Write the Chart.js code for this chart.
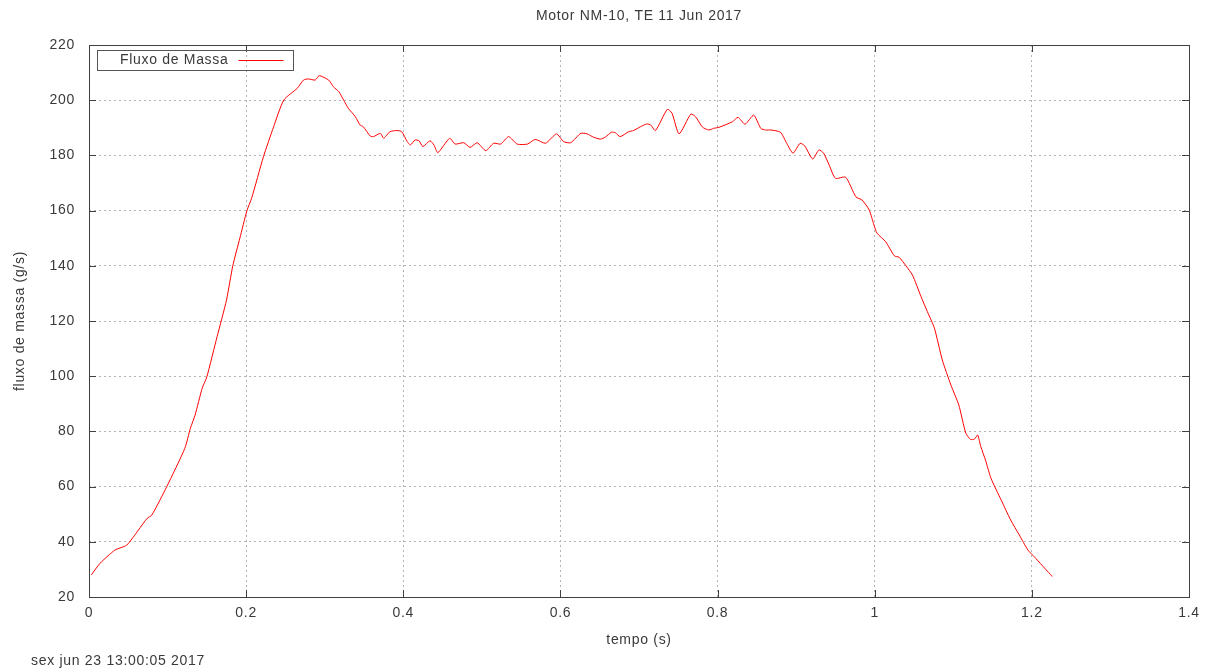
<!DOCTYPE html>
<html lang="pt">
<head>
<meta charset="utf-8">
<title>Motor NM-10</title>
<script src="https://cdn.jsdelivr.net/npm/chart.js@4/dist/chart.umd.min.js"></script>
<style>
  html, body { margin: 0; padding: 0; background: #fff; }
  #grafico { display: block; }
</style>
</head>
<body>
<canvas id="grafico" width="1210" height="672"></canvas>
<script>
// =====================================================
// DADOS
// =====================================================

const titulo = "Motor NM-10, TE 11 Jun 2017";
const rotuloSerie = "Fluxo de Massa";
const rotuloX = "tempo (s)";
const rotuloY = "fluxo de massa (g/s)";
const carimbo = "sex jun 23 13:00:05 2017";

const ticksX = ["0", "0.2", "0.4", "0.6", "0.8", "1", "1.2", "1.4"];
const ticksY = [20, 40, 60, 80, 100, 120, 140, 160, 180, 200, 220];

const tempo = [
  0.003, 0.014, 0.033, 0.048, 0.063, 0.074, 0.080, 0.099, 0.122, 0.129,
  0.135, 0.144, 0.150, 0.163, 0.175, 0.183, 0.192, 0.201, 0.207, 0.222,
  0.235, 0.248, 0.265, 0.273, 0.279, 0.288, 0.293, 0.305, 0.311, 0.318,
  0.324, 0.330, 0.339, 0.345, 0.349, 0.358, 0.362, 0.371, 0.375, 0.383,
  0.392, 0.398, 0.405, 0.409, 0.415, 0.420, 0.425, 0.434, 0.439, 0.444,
  0.459, 0.466, 0.477, 0.485, 0.494, 0.505, 0.515, 0.524, 0.534, 0.545,
  0.558, 0.568, 0.581, 0.595, 0.604, 0.613, 0.626, 0.634, 0.642, 0.651,
  0.657, 0.665, 0.670, 0.676, 0.687, 0.693, 0.702, 0.710, 0.715, 0.721,
  0.736, 0.742, 0.751, 0.766, 0.772, 0.781, 0.789, 0.795, 0.802, 0.819,
  0.826, 0.835, 0.846, 0.855, 0.861, 0.868, 0.880, 0.888, 0.896, 0.905,
  0.911, 0.921, 0.929, 0.935, 0.942, 0.950, 0.963, 0.976, 0.984, 0.993,
  0.999, 1.003, 1.014, 1.025, 1.031, 1.040, 1.048, 1.059, 1.067, 1.076,
  1.086, 1.097, 1.107, 1.116, 1.122, 1.127, 1.131, 1.135, 1.141, 1.148,
  1.161, 1.173, 1.184, 1.195, 1.203, 1.226
];

const fluxo = [
  28.0, 32.2, 37.0, 38.8, 44.3, 48.5, 49.7, 60.0, 73.9, 81.1,
  85.9, 95.6, 99.8, 114.3, 127.6, 140.0, 150.0, 160.0, 164.5, 179.5,
  190.4, 200.1, 204.3, 207.3, 207.7, 207.3, 208.9, 207.3, 204.9, 203.1,
  200.1, 197.1, 194.0, 191.0, 190.4, 187.0, 186.8, 188.0, 186.2, 188.6,
  189.0, 188.6, 185.0, 183.8, 185.6, 185.3, 183.2, 185.3, 183.8, 181.0,
  186.2, 184.1, 184.6, 182.9, 184.6, 181.7, 184.4, 184.1, 186.8, 184.1,
  184.1, 185.8, 184.4, 187.8, 185.0, 184.6, 188.0, 187.8, 186.6, 185.9,
  186.6, 188.4, 188.2, 186.8, 188.6, 189.0, 190.4, 191.4, 191.0, 189.0,
  196.7, 195.3, 187.8, 195.0, 194.0, 190.2, 189.2, 189.8, 190.2, 192.2,
  193.8, 191.3, 194.6, 189.8, 189.2, 189.2, 188.4, 184.4, 180.8, 184.4,
  183.4, 178.7, 182.0, 180.8, 176.5, 171.7, 172.1, 165.0, 163.8, 160.2,
  154.8, 151.8, 148.7, 143.6, 143.1, 139.9, 136.7, 128.8, 123.4, 117.4,
  105.9, 96.8, 89.6, 79.3, 77.1, 77.2, 78.7, 74.5, 69.6, 63.0,
  55.1, 47.9, 42.5, 37.0, 34.6, 27.4
];

// =====================================================
// ESTILO
// =====================================================

const FONTE = "'Liberation Sans', Arial, sans-serif";
const COR_TEXTO = "#3a3a3a";
const COR_BORDA = "#404040";
const COR_GRADE = "#b4b4b4";
const COR_LINHA = "#ff0000";

Chart.defaults.font.family = FONTE;
Chart.defaults.font.size = 14;
Chart.defaults.color = COR_TEXTO;

// espacamento de letras parecido com o do gnuplot
const espacamento = {
  id: "espacamento",
  beforeDraw(chart) { chart.ctx.letterSpacing = "0.7px"; }
};

// borda em volta do grafico + marcas de tick para dentro (estilo gnuplot)
const moldura = {
  id: "moldura",
  afterDatasetsDraw(chart) {
    const { ctx, chartArea: a, scales } = chart;
    const tam = 7;
    ctx.save();
    ctx.strokeStyle = COR_BORDA;
    ctx.lineWidth = 1;
    ctx.beginPath();
    scales.x.ticks.forEach(t => {
      const px = Math.round(scales.x.getPixelForValue(t.value)) + 0.5;
      ctx.moveTo(px, a.bottom); ctx.lineTo(px, a.bottom - tam);
      ctx.moveTo(px, a.top); ctx.lineTo(px, a.top + tam);
    });
    scales.y.ticks.forEach(t => {
      const py = Math.round(scales.y.getPixelForValue(t.value)) + 0.5;
      ctx.moveTo(a.left, py); ctx.lineTo(a.left + tam, py);
      ctx.moveTo(a.right, py); ctx.lineTo(a.right - tam, py);
    });
    ctx.stroke();
    ctx.strokeRect(Math.round(a.left) + 0.5, Math.round(a.top) + 0.5,
      Math.round(a.right - a.left), Math.round(a.bottom - a.top));
    ctx.restore();
  }
};

// legenda dentro da area do grafico, canto superior esquerdo
const legendaInterna = {
  id: "legendaInterna",
  afterDraw(chart) {
    const { ctx, chartArea: a } = chart;
    const ds = chart.data.datasets[0];
    const x0 = Math.round(a.left) + 8.5, y0 = Math.round(a.top) + 5.5;
    const w = 196, h = 20;
    ctx.save();
    ctx.strokeStyle = "#555";
    ctx.lineWidth = 1;
    ctx.strokeRect(x0, y0, w, h);
    ctx.font = "14px " + FONTE;
    ctx.fillStyle = COR_TEXTO;
    ctx.textAlign = "right";
    ctx.textBaseline = "middle";
    ctx.fillText(ds.label, x0 + 131, y0 + h / 2);
    ctx.strokeStyle = ds.borderColor;
    ctx.beginPath();
    ctx.moveTo(x0 + 141, y0 + h / 2);
    ctx.lineTo(x0 + 186, y0 + h / 2);
    ctx.stroke();
    // data de geracao, canto inferior esquerdo
    ctx.textAlign = "left";
    ctx.fillText(carimbo, 31, chart.height - 11);
    ctx.restore();
  }
};

// =====================================================
// GRAFICO
// =====================================================

document.addEventListener("DOMContentLoaded", () => {
  const pontos = tempo.map((t, i) => ({ x: t, y: fluxo[i] }));

  new Chart(document.getElementById("grafico"), {
    type: "line",
    data: {
      datasets: [{
        label: rotuloSerie,
        data: pontos,
        borderColor: COR_LINHA,
        borderWidth: 1,
        pointRadius: 0,
        tension: 0.2,
        fill: false
      }]
    },
    options: {
      responsive: false,
      animation: false,
      layout: { padding: { left: 0, right: 21, top: 0, bottom: 0 } },
      plugins: {
        legend: { display: false },
        tooltip: { enabled: false },
        title: {
          display: true,
          text: titulo,
          fullSize: false,
          color: COR_TEXTO,
          font: { size: 14, weight: "normal" },
          padding: { top: 8, bottom: 20.2 }
        }
      },
      scales: {
        x: {
          type: "linear",
          min: 0,
          max: 1.4,
          afterFit: s => { s.height = 75; },
          afterBuildTicks: s => {
            s.ticks = ticksX.map(v => ({ value: parseFloat(v) }));
          },
          ticks: {
            padding: 8,
            maxRotation: 0,
            callback: (v, i) => ticksX[i]
          },
          grid: {
            color: COR_GRADE,
            drawTicks: false,
            tickBorderDash: [2, 3]
          },
          border: { display: false, dash: [2, 3] },
          title: {
            display: true,
            text: rotuloX,
            padding: { top: 0, bottom: 23.6 }
          }
        },
        y: {
          min: 20,
          max: 220,
          afterFit: s => { s.width = 89; },
          afterBuildTicks: s => {
            s.ticks = ticksY.map(v => ({ value: v }));
          },
          ticks: { padding: 14 },
          grid: {
            color: COR_GRADE,
            drawTicks: false
          },
          border: { display: false, dash: [2, 3] },
          title: {
            display: true,
            text: rotuloY,
            padding: { top: 11.6, bottom: 0 }
          }
        }
      }
    },
    plugins: [espacamento, moldura, legendaInterna]
  });
});
</script>
</body>
</html>
